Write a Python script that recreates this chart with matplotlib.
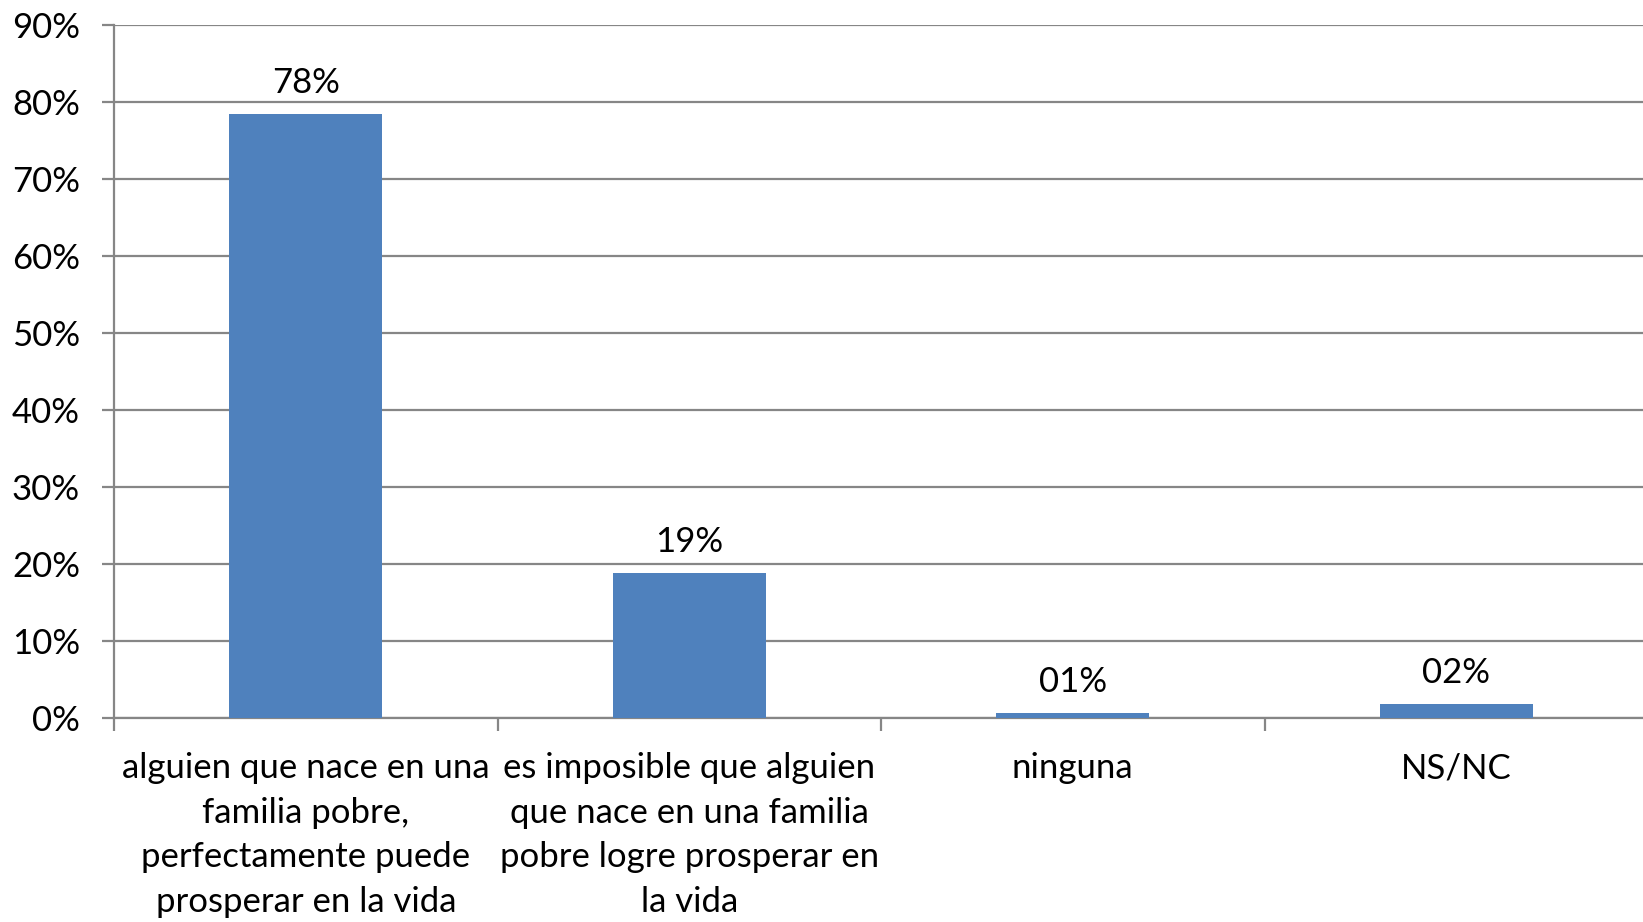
import matplotlib
matplotlib.use("Agg")
import matplotlib.pyplot as plt
from matplotlib.ticker import FixedLocator, PercentFormatter

categories = [
    "alguien que nace en una\nfamilia pobre,\nperfectamente puede\nprosperar en la vida",
    "es imposible que alguien\nque nace en una familia\npobre logre prosperar en\nla vida",
    "ninguna",
    "NS/NC",
]
values = [78.4, 18.8, 0.6, 1.8]
value_labels = ["78%", "19%", "01%", "02%"]
yticks = [0, 10, 20, 30, 40, 50, 60, 70, 80, 90]

plt.rcParams["font.family"] = ["Lato", "DejaVu Sans"]

W, H = 1643, 922
fig = plt.figure(figsize=(W / 100, H / 100), dpi=100)
left = 114 / W
bottom = (H - 717.7) / H
top = (H - 24.7) / H
width = (1648 - 114) / W
ax = fig.add_axes([left, bottom, width, top - bottom])

grid_color = "#868686"
bar_color = "#4F81BD"

x = list(range(len(categories)))
bars = ax.bar(x, values, width=0.4, color=bar_color, zorder=3)

ax.set_xlim(-0.5, len(categories) - 0.5)
ax.set_ylim(0, 90)
ax.set_yticks(yticks)
ax.yaxis.set_major_formatter(PercentFormatter(decimals=0))
ax.yaxis.grid(True, color=grid_color, linewidth=1.6, zorder=0)
ax.set_axisbelow(True)

for side in ["top", "right"]:
    ax.spines[side].set_visible(False)
for side in ["left", "bottom"]:
    ax.spines[side].set_color(grid_color)
    ax.spines[side].set_linewidth(1.6)

ax.tick_params(axis="y", length=8.5, width=1.6, color=grid_color, pad=16,
               labelsize=25, labelcolor="black")

ax.set_xticks(x)
ax.set_xticklabels(categories, fontsize=25, linespacing=1.48)
ax.tick_params(axis="x", which="major", length=0, pad=25)
ax.xaxis.set_minor_locator(FixedLocator([i - 0.5 for i in range(len(categories) + 1)]))
ax.tick_params(axis="x", which="minor", length=9, width=1.6, color=grid_color)

for b, lab in zip(bars, value_labels):
    ax.annotate(lab, (b.get_x() + b.get_width() / 2, b.get_height()),
                xytext=(0, 11), textcoords="offset points",
                ha="center", va="bottom", fontsize=25)

fig.savefig("out.png", dpi=100)
